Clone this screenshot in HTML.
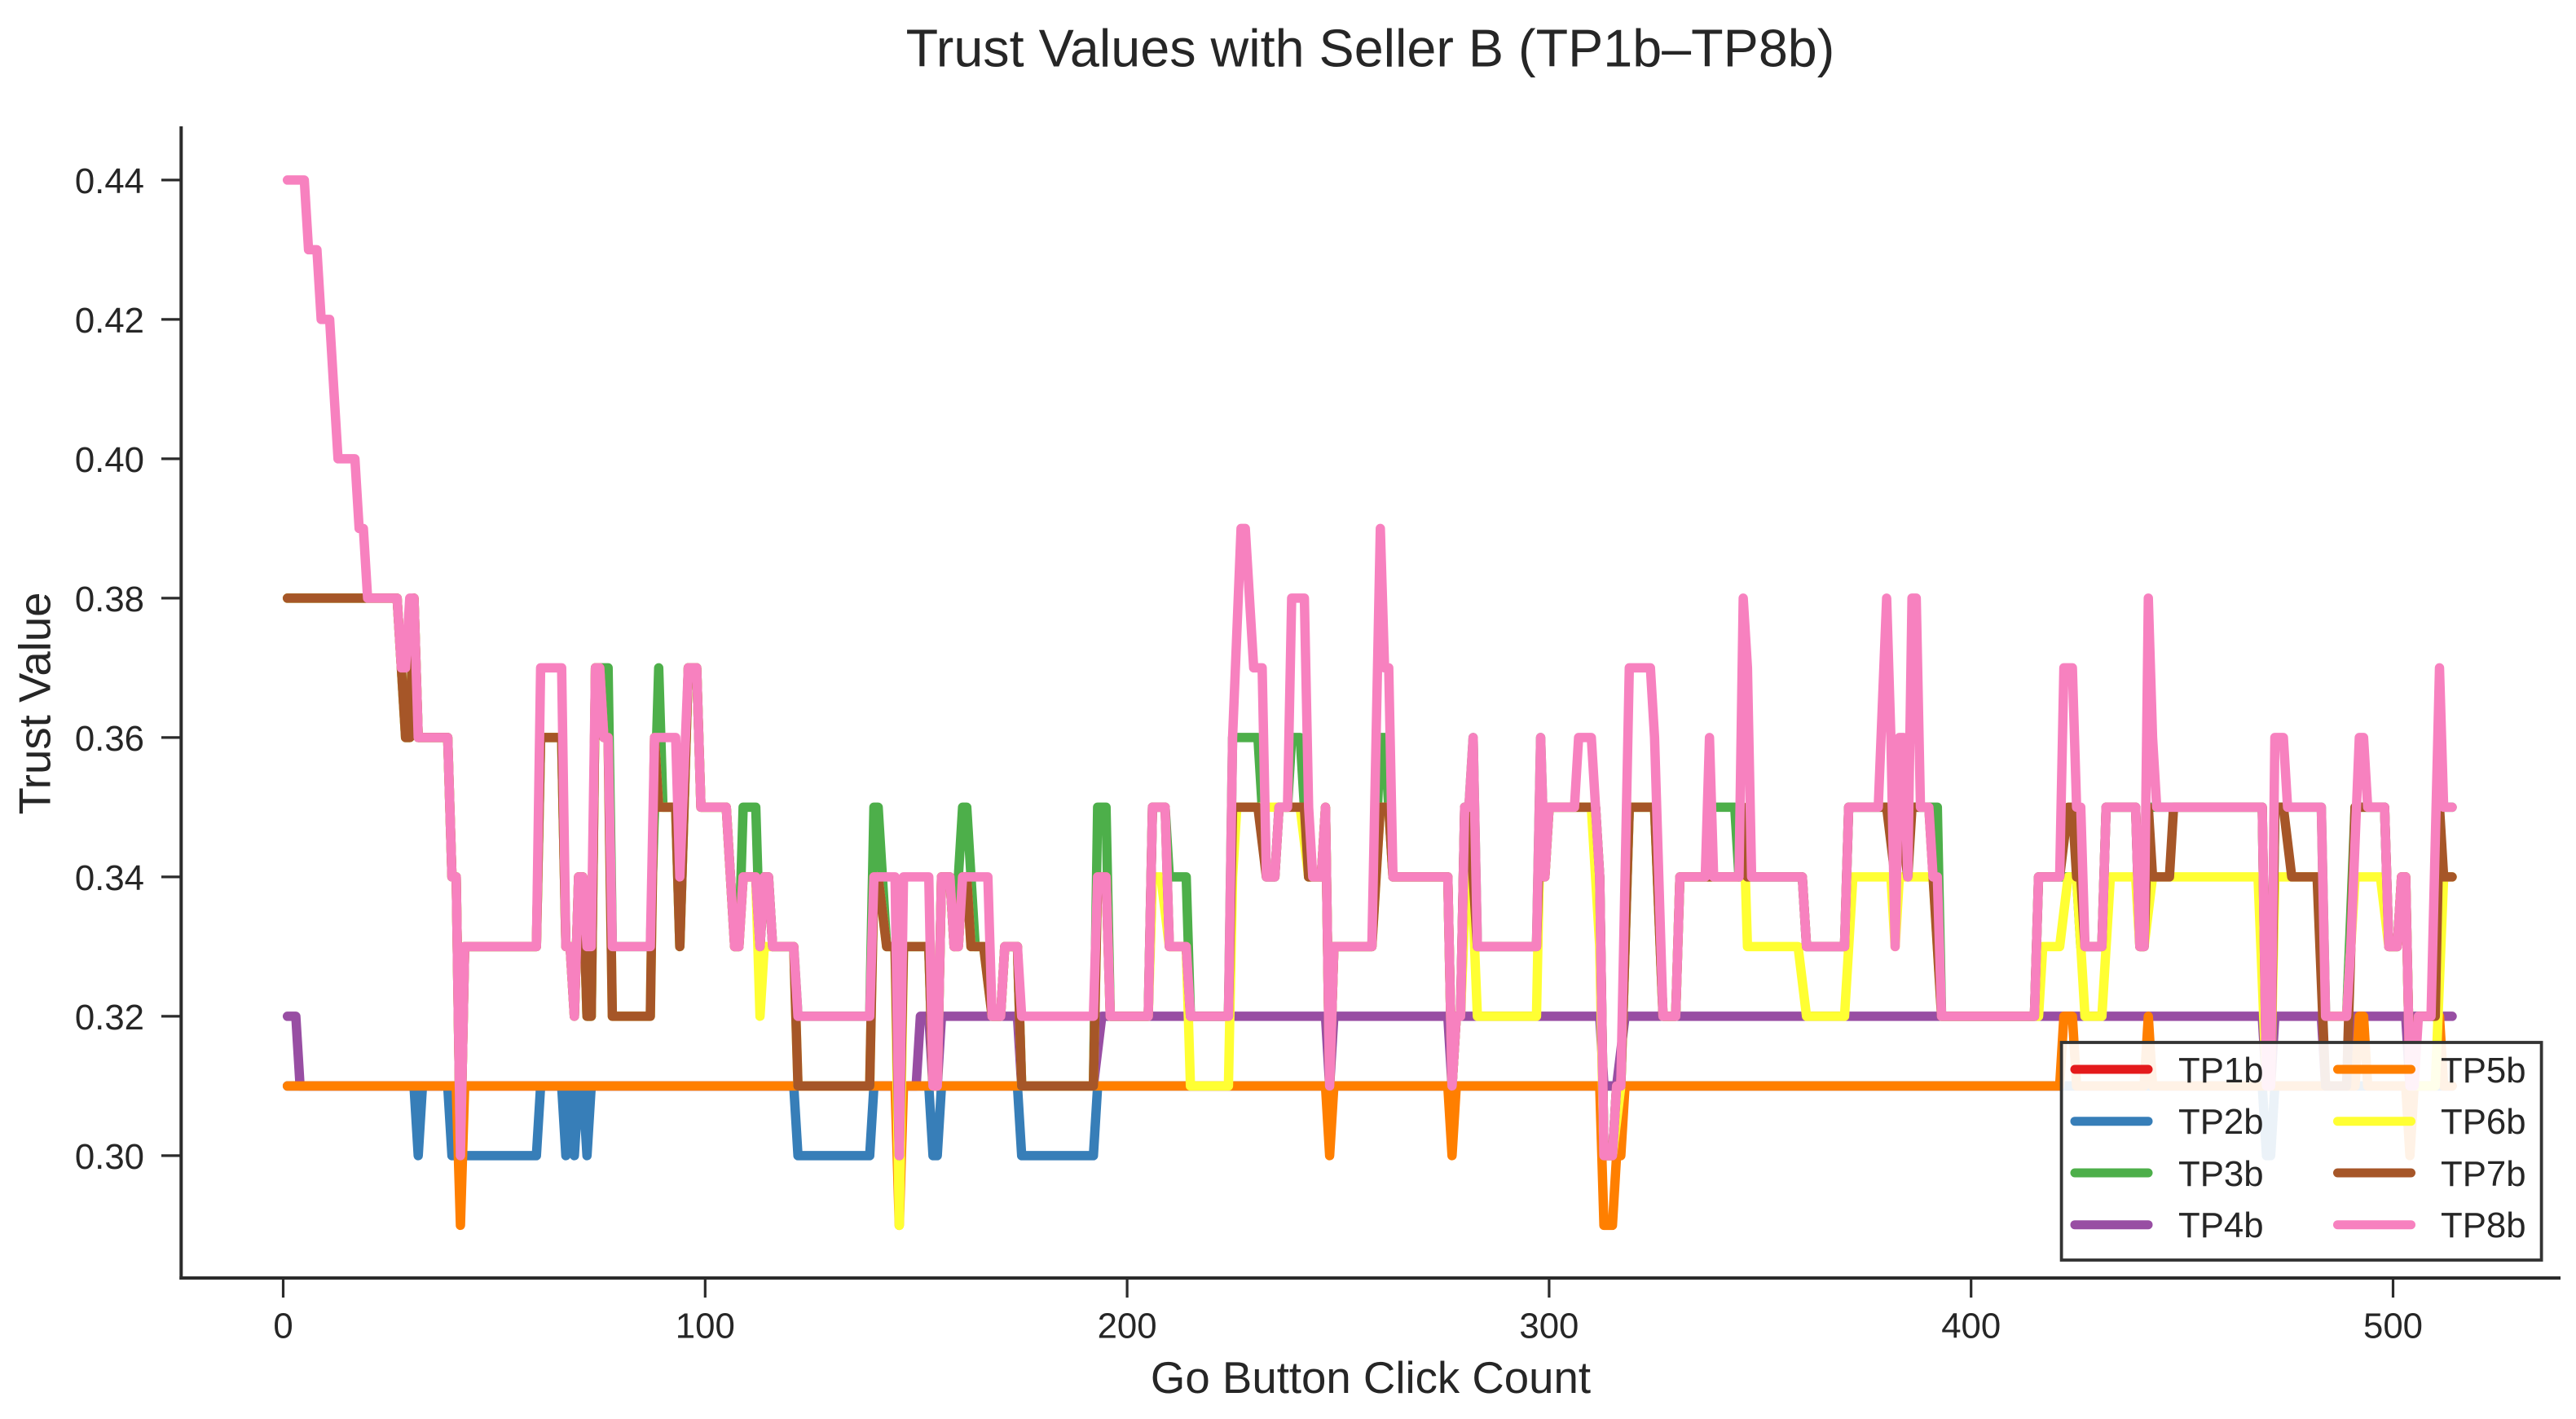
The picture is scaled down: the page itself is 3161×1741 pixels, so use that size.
<!DOCTYPE html>
<html lang="en">
<head>
<meta charset="utf-8">
<title>Trust Values with Seller B</title>
<style>
html,body{margin:0;padding:0;background:#fff;}
svg{display:block;font-family:"Liberation Sans",Arial,sans-serif;}
text{fill:#262626;}
</style>
</head>
<body>
<svg id="chart" xmlns="http://www.w3.org/2000/svg" width="3161" height="1741" viewBox="0 0 3161 1741">
  <rect x="0" y="0" width="3161" height="1741" fill="#ffffff"/>
  <text x="1681.5" y="81.7" font-size="64.7" text-anchor="middle">Trust Values with Seller B (TP1b–TP8b)</text>
  <g id="ticks"></g>
  <g id="series"></g>
  <line x1="222.3" y1="155" x2="222.3" y2="1570" stroke="#2b2b2b" stroke-width="4"/>
  <line x1="220.3" y1="1568" x2="3142" y2="1568" stroke="#2b2b2b" stroke-width="4"/>
  <text x="1682" y="1709" font-size="54.6" text-anchor="middle">Go Button Click Count</text>
  <text x="0" y="0" font-size="54.6" text-anchor="middle" transform="translate(61.7 863) rotate(-90)">Trust Value</text>
  <g>
    <rect x="2529.6" y="1279" width="589" height="267" fill="#ffffff" fill-opacity="0.9" stroke="#333333" stroke-width="3.8"/>
    <g><line x1="2546" y1="1312" x2="2636" y2="1312" stroke="#e41a1c" stroke-width="11" stroke-linecap="round"/><text x="2673" y="1328" font-size="43.75">TP1b</text></g>
    <g><line x1="2546" y1="1375.7" x2="2636" y2="1375.7" stroke="#377eb8" stroke-width="11" stroke-linecap="round"/><text x="2673" y="1391" font-size="43.75">TP2b</text></g>
    <g><line x1="2546" y1="1439" x2="2636" y2="1439" stroke="#4daf4a" stroke-width="11" stroke-linecap="round"/><text x="2673" y="1455" font-size="43.75">TP3b</text></g>
    <g><line x1="2546" y1="1502.7" x2="2636" y2="1502.7" stroke="#984ea3" stroke-width="11" stroke-linecap="round"/><text x="2673" y="1518" font-size="43.75">TP4b</text></g>
    <g><line x1="2868.5" y1="1312" x2="2958.5" y2="1312" stroke="#ff7f00" stroke-width="11" stroke-linecap="round"/><text x="2995" y="1328" font-size="43.75">TP5b</text></g>
    <g><line x1="2868.5" y1="1375.7" x2="2958.5" y2="1375.7" stroke="#ffff33" stroke-width="11" stroke-linecap="round"/><text x="2995" y="1391" font-size="43.75">TP6b</text></g>
    <g><line x1="2868.5" y1="1439" x2="2958.5" y2="1439" stroke="#a65628" stroke-width="11" stroke-linecap="round"/><text x="2995" y="1455" font-size="43.75">TP7b</text></g>
    <g><line x1="2868.5" y1="1502.7" x2="2958.5" y2="1502.7" stroke="#f781bf" stroke-width="11" stroke-linecap="round"/><text x="2995" y="1518" font-size="43.75">TP8b</text></g>
  </g>
</svg>
<script>
const xTickValues = [0, 100, 200, 300, 400, 500];
const yTickValues = [0.30, 0.32, 0.34, 0.36, 0.38, 0.40, 0.42, 0.44];
const yTickLabels = ["0.30", "0.32", "0.34", "0.36", "0.38", "0.40", "0.42", "0.44"];

const tp1bPoints = [[1,.31],[514,.31]];

const tp2bPoints = [[1,.31],[31,.31],[32,.30],[33,.31],[39,.31],[40,.30],[60,.30],[61,.31],[66,.31],[67,.30],[68,.31],[69,.30],[70,.31],[71,.31],[72,.30],[73,.31],[121,.31],[122,.30],[139,.30],[140,.31],[153,.31],[154,.30],[155,.30],[156,.31],[174,.31],[175,.30],[192,.30],[193,.31],[469,.31],[470,.30],[471,.30],[472,.31],[514,.31]];

const tp3bPoints = [[1,.38],[27,.38],[29,.36],[30,.36],[31,.38],[32,.36],[39,.36],[40,.34],[41,.34],[42,.30],[43,.33],[60,.33],[61,.36],[66,.36],[67,.33],[68,.33],[69,.32],[70,.34],[71,.34],[72,.32],[73,.32],[74,.37],[77,.37],[78,.33],[87,.33],[88,.35],[89,.37],[90,.35],[93,.35],[94,.33],[96,.37],[98,.37],[99,.35],[105,.35],[107,.33],[108,.33],[109,.35],[112,.35],[113,.33],[114,.34],[115,.34],[116,.33],[121,.33],[122,.32],[139,.32],[140,.35],[141,.35],[143,.33],[153,.33],[154,.31],[155,.31],[156,.34],[158,.34],[159,.33],[160,.34],[161,.35],[162,.35],[164,.33],[167,.33],[168,.32],[170,.32],[171,.33],[174,.33],[175,.31],[192,.31],[193,.35],[195,.35],[196,.32],[205,.32],[206,.35],[209,.35],[210,.34],[214,.34],[215,.32],[224,.32],[225,.36],[231,.36],[233,.34],[235,.34],[236,.35],[238,.35],[239,.36],[241,.36],[243,.34],[246,.34],[247,.35],[248,.31],[249,.33],[258,.33],[260,.36],[261,.36],[263,.34],[276,.34],[277,.31],[278,.32],[279,.32],[280,.35],[281,.35],[282,.36],[283,.33],[297,.33],[298,.36],[299,.34],[300,.35],[310,.35],[311,.35],[312,.34],[313,.30],[315,.30],[316,.31],[317,.31],[319,.35],[324,.35],[325,.35],[327,.32],[330,.32],[331,.34],[337,.34],[338,.35],[344,.35],[345,.34],[347,.34],[360,.34],[361,.33],[370,.33],[371,.35],[392,.35],[393,.32],[415,.32],[416,.34],[425,.34],[426,.33],[431,.33],[432,.35],[439,.35],[440,.33],[441,.33],[442,.35],[469,.35],[470,.31],[471,.31],[472,.35],[483,.35],[484,.32],[489,.32],[491,.35],[498,.35],[499,.33],[501,.33],[502,.34],[503,.34],[504,.31],[506,.32],[510,.32],[511,.35],[514,.35]];

const tp4bPoints = [[1,.32],[3,.32],[4,.31],[150,.31],[151,.32],[153,.32],[154,.31],[155,.31],[156,.32],[174,.32],[175,.31],[192,.31],[194,.32],[247,.32],[248,.31],[249,.32],[276,.32],[277,.31],[278,.32],[312,.32],[313,.31],[316,.31],[318,.32],[469,.32],[470,.31],[471,.31],[472,.32],[483,.32],[484,.31],[489,.31],[490,.32],[503,.32],[504,.31],[505,.32],[514,.32]];

const tp5bPoints = [[1,.31],[41,.31],[42,.29],[43,.31],[145,.31],[146,.29],[147,.31],[247,.31],[248,.30],[249,.31],[276,.31],[277,.30],[278,.31],[312,.31],[313,.29],[315,.29],[316,.30],[317,.30],[318,.31],[421,.31],[422,.32],[424,.32],[425,.31],[441,.31],[442,.32],[443,.31],[491,.31],[492,.32],[493,.32],[494,.31],[503,.31],[504,.30],[505,.31],[510,.31],[511,.32],[512,.31],[514,.31]];

const tp6bPoints = [[1,.38],[27,.38],[29,.36],[30,.36],[31,.38],[32,.36],[39,.36],[40,.34],[41,.34],[42,.30],[43,.33],[60,.33],[61,.36],[66,.36],[67,.33],[68,.33],[69,.32],[70,.34],[71,.34],[72,.32],[73,.32],[74,.37],[75,.37],[76,.36],[77,.36],[78,.32],[87,.32],[88,.36],[89,.35],[93,.35],[94,.33],[96,.37],[98,.37],[99,.35],[105,.35],[107,.33],[108,.33],[109,.34],[112,.34],[113,.32],[114,.33],[116,.33],[121,.33],[122,.31],[139,.31],[140,.34],[141,.34],[143,.33],[145,.33],[146,.29],[147,.33],[153,.33],[154,.31],[155,.31],[156,.34],[158,.34],[159,.33],[160,.33],[161,.34],[162,.34],[163,.33],[166,.33],[168,.32],[170,.32],[171,.33],[174,.33],[175,.31],[192,.31],[193,.34],[195,.34],[196,.32],[205,.32],[206,.34],[208,.34],[210,.33],[214,.33],[215,.31],[224,.31],[225,.34],[226,.35],[241,.35],[243,.34],[246,.34],[247,.35],[248,.31],[249,.33],[258,.33],[260,.35],[262,.35],[263,.34],[276,.34],[277,.31],[278,.32],[279,.32],[281,.35],[283,.32],[297,.32],[298,.35],[299,.34],[300,.35],[310,.35],[311,.34],[312,.33],[313,.30],[315,.30],[317,.31],[319,.35],[324,.35],[325,.35],[327,.32],[330,.32],[331,.34],[345,.34],[346,.35],[347,.33],[359,.33],[361,.32],[370,.32],[372,.34],[381,.34],[382,.33],[383,.34],[391,.34],[393,.32],[416,.32],[417,.33],[421,.33],[423,.34],[425,.34],[427,.32],[431,.32],[433,.34],[439,.34],[440,.33],[441,.33],[443,.34],[468,.34],[470,.31],[471,.31],[472,.34],[482,.34],[484,.32],[489,.32],[491,.34],[497,.34],[499,.33],[501,.33],[502,.34],[503,.34],[504,.31],[510,.31],[512,.34],[514,.34]];

const tp7bPoints = [[1,.38],[27,.38],[29,.36],[30,.36],[31,.38],[32,.36],[39,.36],[40,.34],[41,.34],[42,.30],[43,.33],[60,.33],[61,.36],[66,.36],[67,.33],[68,.33],[69,.32],[70,.34],[71,.34],[72,.32],[73,.32],[74,.37],[75,.37],[76,.36],[77,.36],[78,.32],[87,.32],[88,.36],[89,.35],[93,.35],[94,.33],[96,.37],[98,.37],[99,.35],[105,.35],[107,.33],[108,.33],[109,.34],[112,.34],[113,.33],[114,.34],[115,.34],[116,.33],[121,.33],[122,.31],[139,.31],[140,.34],[141,.34],[143,.33],[145,.33],[146,.30],[147,.33],[153,.33],[154,.31],[155,.31],[156,.34],[158,.34],[159,.33],[160,.33],[161,.34],[162,.34],[163,.33],[166,.33],[168,.32],[170,.32],[171,.33],[174,.33],[175,.31],[192,.31],[193,.34],[195,.34],[196,.32],[205,.32],[206,.35],[209,.35],[210,.33],[214,.33],[215,.32],[224,.32],[225,.35],[231,.35],[233,.34],[235,.34],[236,.35],[242,.35],[243,.34],[246,.34],[247,.35],[248,.31],[249,.33],[258,.33],[260,.35],[262,.35],[263,.34],[276,.34],[277,.31],[278,.32],[279,.32],[280,.35],[281,.35],[283,.33],[297,.33],[298,.35],[299,.34],[300,.35],[310,.35],[311,.35],[312,.34],[313,.30],[315,.30],[316,.31],[317,.31],[319,.35],[324,.35],[325,.35],[327,.32],[330,.32],[331,.34],[345,.34],[346,.35],[347,.34],[360,.34],[361,.33],[370,.33],[371,.35],[380,.35],[382,.34],[383,.35],[385,.34],[386,.35],[390,.35],[391,.34],[393,.32],[415,.32],[416,.34],[421,.34],[423,.35],[424,.35],[425,.34],[426,.34],[427,.33],[431,.33],[432,.35],[439,.35],[440,.33],[441,.33],[442,.35],[443,.34],[447,.34],[448,.35],[469,.35],[470,.31],[471,.31],[472,.35],[474,.35],[476,.34],[482,.34],[484,.31],[489,.31],[491,.35],[498,.35],[499,.33],[501,.33],[502,.34],[503,.34],[504,.31],[506,.32],[510,.32],[511,.35],[512,.34],[514,.34]];

const tp8bPoints = [[1,.44],[5,.44],[6,.43],[8,.43],[9,.42],[11,.42],[12,.41],[13,.40],[17,.40],[18,.39],[19,.39],[20,.38],[27,.38],[28,.37],[29,.37],[30,.38],[31,.38],[32,.36],[39,.36],[40,.34],[41,.34],[42,.30],[43,.33],[60,.33],[61,.37],[66,.37],[67,.33],[68,.33],[69,.32],[70,.34],[71,.34],[72,.33],[73,.33],[74,.37],[75,.37],[76,.36],[77,.36],[78,.33],[87,.33],[88,.36],[93,.36],[94,.34],[96,.37],[98,.37],[99,.35],[105,.35],[107,.33],[108,.33],[109,.34],[112,.34],[113,.33],[114,.34],[115,.34],[116,.33],[121,.33],[122,.32],[139,.32],[140,.34],[145,.34],[146,.30],[147,.34],[153,.34],[154,.31],[155,.31],[156,.34],[158,.34],[159,.33],[160,.33],[161,.34],[167,.34],[168,.32],[170,.32],[171,.33],[174,.33],[175,.32],[192,.32],[193,.34],[195,.34],[196,.32],[205,.32],[206,.35],[209,.35],[210,.33],[214,.33],[215,.32],[224,.32],[225,.36],[227,.39],[228,.39],[230,.37],[232,.37],[233,.34],[235,.34],[236,.35],[238,.35],[239,.38],[242,.38],[243,.35],[244,.34],[246,.34],[247,.35],[248,.31],[249,.33],[258,.33],[260,.39],[261,.37],[262,.37],[263,.34],[276,.34],[277,.31],[278,.32],[279,.32],[280,.35],[281,.35],[282,.36],[283,.33],[297,.33],[298,.36],[299,.34],[300,.35],[306,.35],[307,.36],[310,.36],[311,.35],[312,.34],[313,.30],[315,.30],[316,.31],[317,.31],[319,.37],[324,.37],[325,.36],[327,.32],[330,.32],[331,.34],[337,.34],[338,.36],[339,.34],[345,.34],[346,.38],[347,.37],[348,.34],[360,.34],[361,.33],[370,.33],[371,.35],[378,.35],[380,.38],[381,.36],[382,.33],[383,.36],[384,.36],[385,.34],[386,.38],[387,.38],[388,.35],[390,.35],[391,.34],[392,.34],[393,.32],[415,.32],[416,.34],[421,.34],[422,.37],[424,.37],[425,.35],[426,.35],[427,.33],[431,.33],[432,.35],[439,.35],[440,.33],[441,.33],[442,.38],[443,.36],[444,.35],[469,.35],[470,.31],[471,.31],[472,.36],[474,.36],[475,.35],[482,.35],[483,.35],[484,.32],[489,.32],[490,.33],[492,.36],[493,.36],[494,.35],[498,.35],[499,.33],[501,.33],[502,.34],[503,.34],[504,.31],[505,.31],[506,.32],[509,.32],[511,.37],[512,.35],[514,.35]];

const seriesNames = ["tp1b", "tp2b", "tp3b", "tp4b", "tp5b", "tp6b", "tp7b", "tp8b"];
const seriesData = [tp1bPoints, tp2bPoints, tp3bPoints, tp4bPoints, tp5bPoints, tp6bPoints, tp7bPoints, tp8bPoints];
const seriesColors = ["#e41a1c", "#377eb8", "#4daf4a", "#984ea3", "#ff7f00", "#ffff33", "#a65628", "#f781bf"];

const SVG_NS = "http://www.w3.org/2000/svg";
function xScale(v) { return 347.5 + v * 5.178; }
function yScale(v) { return 220.9 + (0.44 - v) * 8550; }

const tickLayer = document.getElementById("ticks");
xTickValues.forEach(function (v) {
  const tick = document.createElementNS(SVG_NS, "line");
  tick.setAttribute("x1", xScale(v));
  tick.setAttribute("x2", xScale(v));
  tick.setAttribute("y1", 1569);
  tick.setAttribute("y2", 1592);
  tick.setAttribute("stroke", "#2b2b2b");
  tick.setAttribute("stroke-width", 3.2);
  
  
  tickLayer.appendChild(tick);
  const label = document.createElementNS(SVG_NS, "text");
  label.setAttribute("x", xScale(v));
  label.setAttribute("y", 1641.5);
  label.setAttribute("font-size", 43.75);
  label.setAttribute("text-anchor", "middle");
  label.textContent = String(v);
  
  
  tickLayer.appendChild(label);
});
yTickValues.forEach(function (v, i) {
  const tick = document.createElementNS(SVG_NS, "line");
  tick.setAttribute("x1", 198);
  tick.setAttribute("x2", 221);
  tick.setAttribute("y1", yScale(v));
  tick.setAttribute("y2", yScale(v));
  tick.setAttribute("stroke", "#2b2b2b");
  tick.setAttribute("stroke-width", 3.2);
  
  
  tickLayer.appendChild(tick);
  const label = document.createElementNS(SVG_NS, "text");
  label.setAttribute("x", 177);
  label.setAttribute("y", yScale(v) + 16);
  label.setAttribute("font-size", 43.75);
  label.setAttribute("text-anchor", "end");
  label.textContent = yTickLabels[i];
  
  
  tickLayer.appendChild(label);
});

const seriesLayer = document.getElementById("series");
seriesData.forEach(function (points, i) {
  const line = document.createElementNS(SVG_NS, "polyline");
  line.setAttribute("points", points.map(function (p) {
    return xScale(p[0]).toFixed(1) + "," + yScale(p[1]).toFixed(1);
  }).join(" "));
  line.setAttribute("fill", "none");
  line.setAttribute("stroke", seriesColors[i]);
  line.setAttribute("stroke-width", 11.5);
  line.setAttribute("stroke-linecap", "round");
  line.setAttribute("stroke-linejoin", "round");
  
  
  seriesLayer.appendChild(line);
});
</script>
</body>
</html>
